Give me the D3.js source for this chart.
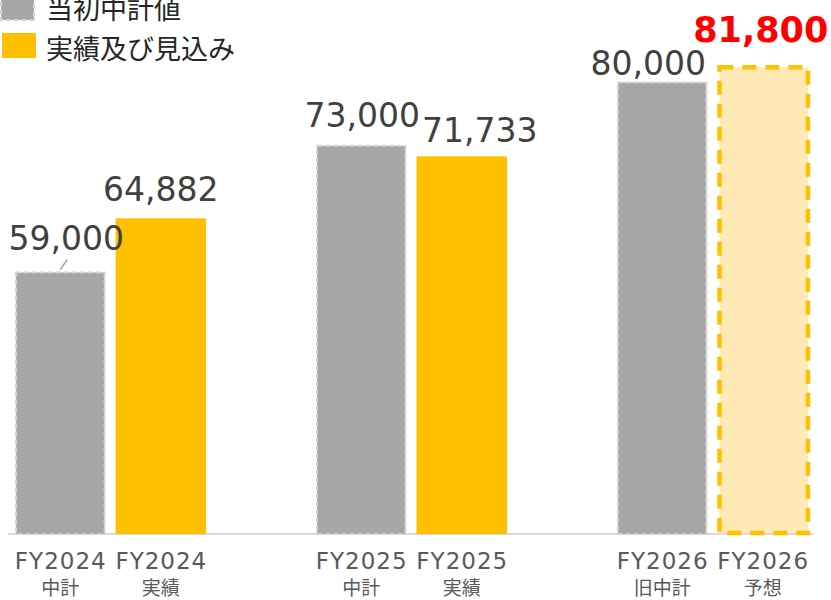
<!DOCTYPE html>
<html>
<head>
<meta charset="utf-8">
<script src="https://cdn.jsdelivr.net/npm/d3@7/dist/d3.min.js"></script>
<style>
  html, body { margin: 0; padding: 0; background: #fff; }
  svg { display: block; }
</style>
</head>
<body>
<svg id="chart" width="831" height="600"></svg>
<script>
// Fiscal years and the two bars drawn for each
const years = ["FY2024", "FY2025", "FY2026"];
const seriesNames = ["当初中計値", "実績及び見込み"];
const planSubLabels = ["中計", "中計", "旧中計"];
const actualSubLabels = ["実績", "実績", "予想"];
const planValues = [59000, 73000, 80000];
const actualValues = [64882, 71733, 81800];
const forecastYear = "FY2026";

// Label nudges (dx, dy from bar centre / top) to keep numbers from colliding
const planLabelShift = [[6, -22], [1, -18], [-14, -7]];
const actualLabelShift = [[0, -17], [18, -14], [-2, -23]];

const baseY = 534;
const svg = d3.select("#chart");

const x0 = d3.scaleBand().domain(years).range([15, 808]).paddingInner(0.365).paddingOuter(0);
const x1 = d3.scaleBand().domain(["plan", "actual"]).range([0, x0.bandwidth()]).paddingInner(0.1);
const y = d3.scaleLinear().domain([30000, 90000]).range([baseY, -9]);
const fmt = d3.format(",");

const GRAY = "#a6a6a6", GRAY_EDGE = "#d4d4d4";
const GOLD = "#ffc000", PALE = "#ffeab6";

const rows = years.map((yr, i) => ({
  year: yr, i,
  plan: planValues[i], actual: actualValues[i],
  planSub: planSubLabels[i], actualSub: actualSubLabels[i]
}));

// Axis baseline
svg.append("line")
  .attr("x1", 8).attr("x2", 813)
  .attr("y1", baseY).attr("y2", baseY)
  .attr("stroke", "#d9d9d9").attr("stroke-width", 2);

const g = svg.selectAll("g.year").data(rows).join("g")
  .attr("class", "year")
  .attr("transform", d => `translate(${x0(d.year)},0)`);

// Plan bars (grey, dashed light edge)
g.append("rect")
  .attr("x", x1("plan") + 1)
  .attr("width", x1.bandwidth() - 2)
  .attr("y", d => y(d.plan) + 1)
  .attr("height", d => baseY - y(d.plan) - 1)
  .attr("fill", GRAY)
  .attr("stroke", GRAY_EDGE)
  .attr("stroke-width", 2)
  .attr("stroke-dasharray", "5,3");

// Actual / forecast bars
g.append("rect")
  .attr("x", d => x1("actual") + (d.year === forecastYear ? 2 : 0))
  .attr("width", d => x1.bandwidth() - (d.year === forecastYear ? 2 : 0))
  .attr("y", d => y(d.actual) + (d.year === forecastYear ? 2 : 0))
  .attr("height", d => baseY - y(d.actual) - (d.year === forecastYear ? 3 : 0))
  .attr("fill", d => d.year === forecastYear ? PALE : GOLD)
  .attr("stroke", d => d.year === forecastYear ? GOLD : "none")
  .attr("stroke-width", 4.5)
  .attr("stroke-dasharray", "14,9");

// Value labels
const numFont = "'DejaVu Sans', Verdana, sans-serif";
g.append("text")
  .attr("x", d => x1("plan") + x1.bandwidth() / 2 + planLabelShift[d.i][0])
  .attr("y", d => y(d.plan) + planLabelShift[d.i][1])
  .attr("text-anchor", "middle")
  .attr("font-family", numFont)
  .attr("font-size", 33)
  .attr("fill", "#404040")
  .text(d => fmt(d.plan));

g.append("text")
  .attr("x", d => x1("actual") + x1.bandwidth() / 2 + actualLabelShift[d.i][0])
  .attr("y", d => y(d.actual) + actualLabelShift[d.i][1])
  .attr("text-anchor", "middle")
  .attr("font-family", numFont)
  .attr("font-size", d => d.year === forecastYear ? 35 : 33)
  .attr("font-weight", d => d.year === forecastYear ? "bold" : "normal")
  .attr("fill", d => d.year === forecastYear ? "#ff0000" : "#404040")
  .text(d => fmt(d.actual));

// Leader line from the first plan bar to its label
g.filter(d => d.i === 0).append("line")
  .attr("x1", x1("plan") + x1.bandwidth() / 2)
  .attr("y1", d => y(d.plan) - 2)
  .attr("x2", x1("plan") + x1.bandwidth() / 2 + 7)
  .attr("y2", d => y(d.plan) - 12)
  .attr("stroke", "#a6a6a6").attr("stroke-width", 1.5);

// Category labels (two lines under each bar)
const cjkFont = "'Noto Sans CJK JP', sans-serif";
["plan", "actual"].forEach(key => {
  const cx = x1(key) + x1.bandwidth() / 2;
  g.append("text")
    .attr("x", cx + 0.5).attr("y", 569)
    .attr("text-anchor", "middle")
    .attr("font-family", numFont)
    .attr("font-size", 23)
    .attr("letter-spacing", 1)
    .attr("fill", "#595959")
    .text(d => d.year);
  g.append("text")
    .attr("x", cx).attr("y", 595)
    .attr("text-anchor", "middle")
    .attr("font-family", cjkFont)
    .attr("font-size", 19)
    .attr("fill", "#595959")
    .text(d => key === "plan" ? d.planSub : d.actualSub);
});

// Legend
const legend = svg.append("g");
legend.append("rect")
  .attr("x", 1).attr("y", -4).attr("width", 33).attr("height", 24)
  .attr("fill", GRAY).attr("stroke", GRAY_EDGE)
  .attr("stroke-width", 2).attr("stroke-dasharray", "5,3");
legend.append("rect")
  .attr("x", 2).attr("y", 33).attr("width", 34).attr("height", 25)
  .attr("fill", GOLD);
legend.selectAll("text").data(seriesNames).join("text")
  .attr("x", 46)
  .attr("y", (d, i) => i === 0 ? 19 : 59)
  .attr("font-family", cjkFont)
  .attr("font-size", 27)
  .attr("fill", "#262626")
  .text(d => d);
</script>
</body>
</html>
